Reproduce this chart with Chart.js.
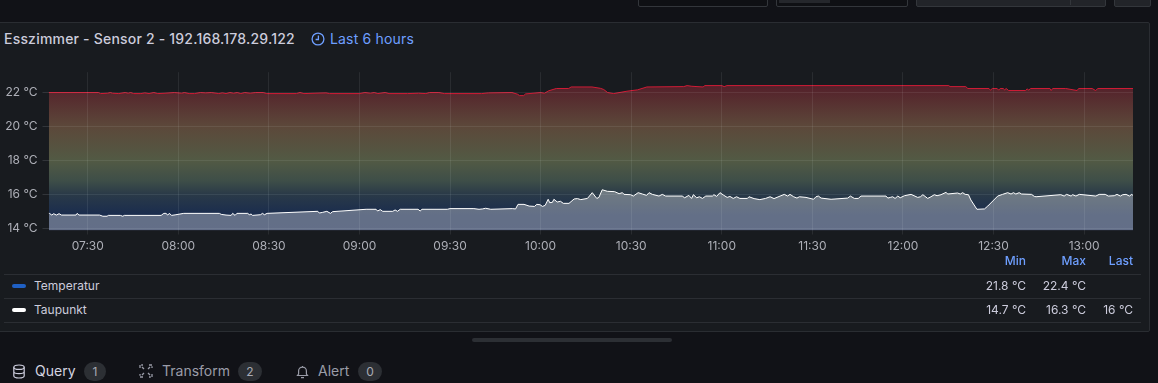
<!DOCTYPE html>
<html>
<head>
<meta charset="utf-8">
<script src="https://cdn.jsdelivr.net/npm/chart.js@4"></script>
<style>
  html, body { margin: 0; padding: 0; background: #111217; width: 1158px; height: 383px; overflow: hidden; font-family: Inter, "Noto Sans", sans-serif; color: #ccccdc; }
  .abs { position: absolute; white-space: nowrap; }
  .box { position: absolute; top: -4px; height: 9px; border: 1px solid #33363b; border-radius: 2px; }
  #panel { position: absolute; left: -2px; top: 22px; width: 1150px; height: 308px; background: #181b1f; border: 1px solid #2a2d32; border-radius: 2px; }
  #chartWrap { position: absolute; left: 0; top: 60px; width: 1158px; height: 196px; }
  .rule { position: absolute; left: 4px; width: 1137px; height: 1px; background: #2b2e33; }
  .hdr { color: #6e9fff; font-size: 12px; line-height: 14px; font-weight: 500; }
  .cell { font-size: 12px; line-height: 14px; text-align: right; color: #ccccdc; }
  .name { font-size: 12px; line-height: 14px; left: 34px; color: #ccccdc; }
  .swatch { position: absolute; left: 12px; width: 14px; height: 4px; border-radius: 2px; }
  .tab { font-size: 14px; line-height: 18px; top: 362px; font-weight: 400; color: #9a9ca8; }
  .badge { position: absolute; top: 362px; height: 19px; line-height: 19px; border-radius: 10px; background: #2c2f34; color: #a9abb5; text-align: center; font-size: 12px; }
</style>
</head>
<body>
<div class="box" style="left:638px;width:128px;background:#0f1014"></div>
<div class="box" style="left:776px;width:130px;background:#0f1014"></div>
<div class="abs" style="left:779px;top:0;width:51px;height:3px;background:#25272c"></div>
<div class="box" style="left:916px;width:188px;background:#222429"></div>
<div class="abs" style="left:1070px;top:0;width:1px;height:5px;background:#33363b"></div>
<div class="box" style="left:1114px;width:35px;background:#222429"></div>

<div id="panel"></div>
<div class="abs" style="left:4px;top:30px;font-size:14px;line-height:18px;font-weight:500;letter-spacing:0.2px" id="title"></div>
<svg class="abs" style="left:311px;top:32px" width="14" height="14" viewBox="0 0 14 14" fill="none" stroke="#6e9fff" stroke-width="1.3">
  <circle cx="7" cy="7" r="5.9"/><path d="M7.4 3.6V7.5H4.6"/>
</svg>
<div class="abs" style="left:330px;top:30px;font-size:14px;line-height:18px;color:#6e9fff;letter-spacing:0.17px" id="range"></div>

<div id="chartWrap"><canvas id="chart"></canvas></div>

<div id="legend"></div>

<div class="abs" style="left:472px;top:338px;width:200px;height:4px;border-radius:2px;background:#2c2f34"></div>

<svg class="abs" style="left:12px;top:364px" width="14" height="15" viewBox="0 0 14 15" fill="none" stroke="#ccccdc" stroke-width="1.2">
  <ellipse cx="7" cy="3.2" rx="5.2" ry="2.2"/><path d="M1.8 3.2V11.8C1.8 13 4.1 14 7 14S12.2 13 12.2 11.8V3.2M1.8 7.5C1.8 8.7 4.1 9.7 7 9.7S12.2 8.7 12.2 7.5"/>
</svg>
<div class="abs tab" style="left:35px;color:#d4d4e0">Query</div>
<div class="badge" style="left:84px;width:22px">1</div>
<svg class="abs" style="left:139px;top:364px" width="14" height="14" viewBox="0 0 14 14" fill="none" stroke="#9a9ca8" stroke-width="1.3">
  <path d="M1 4V1H4M10 1H13V4M13 10V13H10M4 13H1V10M5 5L3 3M9 5L11 3M9 9L11 11M5 9L3 11" stroke-dasharray="3 1.2"/>
</svg>
<div class="abs tab" style="left:162px">Transform</div>
<div class="badge" style="left:238px;width:24px">2</div>
<svg class="abs" style="left:296px;top:365px" width="13" height="14" viewBox="0 0 13 14" fill="none" stroke="#9a9ca8" stroke-width="1.2">
  <path d="M1.5 10.5H11.5L10.4 9V6A3.9 3.9 0 0 0 2.6 6V9ZM5 12.6H8M6.5 1V2"/>
</svg>
<div class="abs tab" style="left:318px">Alert</div>
<div class="badge" style="left:358px;width:24px">0</div>

<script>
const panelTitle = "Esszimmer - Sensor 2 - 192.168.178.29.122"
const timeRange = "Last 6 hours"

// minutes since midnight
const tempTimes = [437.1, 453.6, 454.2, 456.6, 457.5, 458.2, 460.3, 462.4, 463.4, 464.2, 465.2, 467.6, 468.9, 470.3, 471.9, 473.2, 475.6, 478.7, 481.1, 482, 483.6, 485.4, 487.3, 489.1, 490.9, 493.4, 494.6, 495.8, 497.1, 498.3, 499.5, 500.7, 502, 503.8, 505.6, 508.1, 509.3, 519.1, 520.3, 521.6, 528.9, 530.1, 540, 541.8, 543.6, 544.9, 546.1, 548.5, 549.8, 555.9, 559.6, 562, 563.2, 566.3, 568.1, 580.4, 582.8, 590.5, 592.4, 593, 594.4, 595, 600, 601.3, 602.6, 605.2, 609.3, 610.1, 617, 619.8, 620.9, 622.2, 624.2, 628.6, 632.1, 635.2, 647.4, 648.5, 650.1, 653.8, 654.4, 660, 660.8, 661.7, 735.2, 735.6, 740.8, 741.5, 748.5, 749, 749.6, 751.2, 751.7, 752.2, 753.2, 753.7, 754.2, 755, 760.6, 761.2, 761.6, 762.3, 768.7, 769.1, 769.6, 773.9, 777.7, 778.2, 782.7, 783.8, 784.6, 796.3]
const tempValues = [22, 22, 21.94, 21.96, 22, 21.96, 21.94, 22, 21.96, 22, 21.94, 21.94, 21.98, 21.94, 22, 21.94, 21.96, 22, 21.96, 22, 21.94, 21.94, 22, 21.98, 22, 21.94, 21.98, 21.94, 22, 21.96, 22, 21.94, 22, 21.96, 22, 22, 21.94, 21.94, 22, 21.94, 21.98, 21.94, 21.94, 22, 21.96, 22, 21.94, 22, 21.94, 21.94, 21.96, 21.94, 22, 22, 21.94, 21.94, 21.98, 22, 21.9, 21.82, 21.82, 21.92, 22, 21.96, 22.1, 22.24, 22.24, 22.33, 22.33, 22.25, 22.18, 22, 21.94, 22.08, 22.16, 22.33, 22.35, 22.41, 22.37, 22.33, 22.41, 22.41, 22.35, 22.41, 22.41, 22.35, 22.35, 22.24, 22.24, 22.14, 22.24, 22.24, 22.14, 22.24, 22.24, 22.16, 22.24, 22.12, 22.12, 22.22, 22.14, 22.24, 22.24, 22.12, 22.24, 22.24, 22.12, 22.24, 22.24, 22.12, 22.24, 22.24]

const dewTimes = [437.1, 437.3, 438.1, 438.7, 439.6, 440.5, 441.3, 446.1, 446.5, 447.1, 453.9, 455, 456.4, 456.8, 460.8, 461.6, 462.1, 474.3, 475.2, 475.9, 476.5, 477, 477.8, 479.2, 481.8, 493.6, 494.2, 495.8, 497.5, 498, 498.8, 499.4, 503, 503.5, 504.1, 504.6, 507.2, 507.9, 508.5, 509.4, 526.2, 526.7, 527.8, 529.2, 530.4, 531.1, 542.2, 545.5, 546, 546.9, 547.7, 551, 551.8, 552.6, 553.5, 559.4, 560.1, 560.7, 569.1, 570, 577.9, 579.6, 580.7, 581.8, 583.5, 590.6, 591.7, 592.5, 594.5, 596.2, 598, 598.7, 599.8, 600.6, 601.5, 602.5, 603, 603.9, 604.4, 605.5, 606.6, 607.5, 609.4, 611.1, 612.2, 613.3, 615.5, 617.1, 618.6, 619.3, 620.4, 622.1, 624.5, 626, 627.1, 627.6, 629.8, 630.7, 632.3, 633.7, 635.1, 635.9, 637, 639.2, 640.3, 641.4, 646.9, 647.7, 649.1, 650, 650.6, 651.7, 652.6, 653.6, 654.7, 656.9, 657.4, 658.3, 659.4, 660.7, 661.8, 662.7, 663.8, 664.9, 666, 668.5, 669, 670.7, 672.6, 674.5, 676, 677.3, 679.6, 680.7, 681.8, 682.6, 683.8, 684.9, 685.7, 687.9, 690.4, 691.2, 692, 692.9, 696.2, 701.7, 702.6, 703.9, 705.2, 706.1, 714.4, 715, 715.8, 716.6, 717.4, 718.3, 719.1, 720.5, 722.7, 724.9, 725.8, 726.6, 728.2, 729.3, 730.4, 731.3, 732.6, 734.3, 734.8, 738.1, 739, 739.8, 740.6, 741.7, 742.5, 744.5, 747, 748.1, 751.4, 753, 754.7, 755.8, 756.6, 757.4, 758.5, 759.3, 762.6, 763.5, 764.1, 772.3, 773.4, 774.2, 775.7, 776.2, 777.3, 778.4, 783.9, 785, 787, 788, 790, 790.9, 792, 792.8, 793.9, 795, 795.8, 796.3]
const dewValues = [14.88, 14.88, 14.78, 14.86, 14.78, 14.86, 14.78, 14.78, 14.88, 14.78, 14.78, 14.71, 14.71, 14.76, 14.76, 14.71, 14.76, 14.76, 14.88, 14.88, 14.78, 14.88, 14.76, 14.8, 14.88, 14.88, 14.82, 14.78, 14.76, 14.88, 14.76, 14.88, 14.88, 14.8, 14.84, 14.76, 14.8, 14.88, 14.8, 14.88, 15, 14.9, 14.94, 15, 14.88, 14.98, 15.12, 15.12, 15.02, 15.1, 15, 15, 15.08, 15, 15.12, 15.12, 15.02, 15.12, 15.12, 15.16, 15.16, 15.12, 15.14, 15.18, 15.12, 15.16, 15.14, 15.41, 15.41, 15.31, 15.29, 15.41, 15.39, 15.29, 15.35, 15.71, 15.51, 15.53, 15.71, 15.55, 15.59, 15.47, 15.47, 15.73, 15.75, 15.69, 15.76, 16.1, 15.76, 15.82, 16.27, 16.18, 16.16, 16.04, 16.1, 16, 15.98, 15.9, 16.1, 16.02, 15.94, 16.1, 16, 15.9, 16, 15.9, 15.9, 15.8, 15.94, 15.76, 15.98, 15.8, 15.86, 15.76, 15.9, 15.9, 15.98, 15.88, 16.1, 15.94, 15.82, 15.88, 15.76, 15.86, 15.76, 15.76, 15.86, 15.75, 15.69, 15.76, 15.86, 15.75, 15.92, 16, 15.9, 16, 15.86, 15.78, 15.86, 15.82, 15.71, 15.86, 15.9, 15.78, 15.71, 15.78, 15.9, 15.76, 15.76, 15.9, 15.9, 15.78, 15.82, 15.86, 15.76, 15.9, 15.8, 15.92, 16, 15.82, 15.86, 15.98, 15.76, 15.86, 15.98, 15.92, 15.98, 16.12, 16.02, 16.08, 16.02, 16.1, 16, 15.98, 15.67, 15.12, 15.14, 15.31, 15.9, 16, 16.1, 16.02, 16.1, 16.02, 16.1, 16.02, 16, 15.88, 15.86, 15.98, 15.9, 16, 15.9, 15.98, 15.9, 16, 15.9, 16, 16, 15.9, 15.92, 16, 15.9, 15.98, 16, 15.9, 16, 15.92]

const xTicks = [450, 480, 510, 540, 570, 600, 630, 660, 690, 720, 750, 780]
const yTicks = [14, 16, 18, 20, 22]

const seriesNames = ["Temperatur", "Taupunkt"]
const seriesColors = ["#1f60c4", "#ffffff"]
const minLabels = ["21.8 °C", "14.7 °C"]
const maxLabels = ["22.4 °C", "16.3 °C"]
const lastLabels = ["", "16 °C"]

document.getElementById("title").textContent = panelTitle
document.getElementById("range").textContent = timeRange

// legend table under the plot
const legendEl = document.getElementById("legend")
const addEl = (className, style, text) => {
    const el = document.createElement("div")
    el.className = className
    el.style.cssText = style
    if (text) el.textContent = text
    legendEl.appendChild(el)
}
addEl("abs hdr", "right:132px;top:254px", "Min")
addEl("abs hdr", "right:72px;top:254px", "Max")
addEl("abs hdr", "right:25px;top:254px", "Last")
;[274, 298, 322].forEach(y => addEl("rule", `top:${y}px`))
seriesNames.forEach((name, i) => {
    const top = 279 + i * 24
    addEl("swatch", `top:${top + 5}px;background:${seriesColors[i]}`)
    addEl("abs name", `top:${top}px`, name)
    addEl("abs cell", `right:132px;top:${top}px`, minLabels[i])
    addEl("abs cell", `right:72px;top:${top}px`, maxLabels[i])
    addEl("abs cell", `right:25px;top:${top}px`, lastLabels[i])
})

const toPoints = (times, values) => times.map((t, i) => ({ x: t, y: values[i] }))

const formatTime = value => {
    const h = Math.floor(value / 60)
    const m = Math.round(value % 60)
    return `${String(h).padStart(2, "0")}:${String(m).padStart(2, "0")}`
}

// fill colours by temperature, hottest first
const fillStops = [
    [22.4, "rgb(84,32,42)"],
    [20, "rgb(92,72,58)"],
    [18, "rgb(82,90,68)"],
    [16.8, "rgb(62,78,72)"],
    [16, "rgb(42,58,72)"],
    [14.8, "rgb(26,44,78)"],
    [13.8, "rgb(26,42,80)"],
]

const temperatureFill = context => {
    const { chart } = context
    if (!chart.chartArea) return "transparent"
    const yScale = chart.scales.y
    const { top, bottom } = chart.chartArea
    const gradient = chart.ctx.createLinearGradient(0, top, 0, bottom)
    fillStops.forEach(([temp, color]) => {
        const pos = (yScale.getPixelForValue(temp) - top) / (bottom - top)
        gradient.addColorStop(Math.min(1, Math.max(0, pos)), color)
    })
    return gradient
}

new Chart(document.getElementById("chart"), {
    type: "line",
    data: {
        datasets: [
            {
                label: seriesNames[0],
                data: toPoints(tempTimes, tempValues),
                borderColor: "#d01c36",
                borderWidth: 1,
                backgroundColor: temperatureFill,
                fill: "start",
                pointRadius: 0,
                tension: 0,
                order: 2,
            },
            {
                label: seriesNames[1],
                data: toPoints(dewTimes, dewValues),
                borderColor: "#ffffff",
                borderWidth: 1,
                backgroundColor: "rgba(255,255,255,0.32)",
                fill: "start",
                pointRadius: 0,
                tension: 0,
                order: 1,
            },
        ],
    },
    options: {
        responsive: true,
        maintainAspectRatio: false,
        animation: false,
        layout: { padding: { top: 0, right: 25, left: 0, bottom: 0 } },
        plugins: { legend: { display: false }, tooltip: { enabled: false } },
        scales: {
            x: {
                type: "linear",
                min: 437,
                max: 796.2,
                afterFit: scale => {
                    scale.height = 25.5
                },
                afterBuildTicks: scale => {
                    scale.ticks = xTicks.map(value => ({ value }))
                },
                ticks: {
                    autoSkip: false,
                    maxRotation: 0,
                    padding: 5,
                    color: "#adafb7",
                    font: { family: "Inter", size: 12 },
                    callback: value => formatTime(value),
                },
                grid: { color: "rgba(240,250,255,0.08)", tickLength: 4, tickColor: "rgba(240,250,255,0.08)", z: 1 },
                border: { display: false },
            },
            y: {
                min: 13.87,
                max: 23.2,
                afterFit: scale => {
                    scale.width = 48.5
                },
                afterBuildTicks: scale => {
                    scale.ticks = yTicks.map(value => ({ value }))
                },
                ticks: {
                    padding: 5,
                    color: "#adafb7",
                    font: { family: "Inter", size: 12 },
                    callback: value => `${value} °C`,
                },
                grid: { color: "rgba(240,250,255,0.08)", tickLength: 6, tickColor: "rgba(240,250,255,0.12)", z: 1 },
                border: { display: false },
            },
        },
    },
})
</script>
</body>
</html>
